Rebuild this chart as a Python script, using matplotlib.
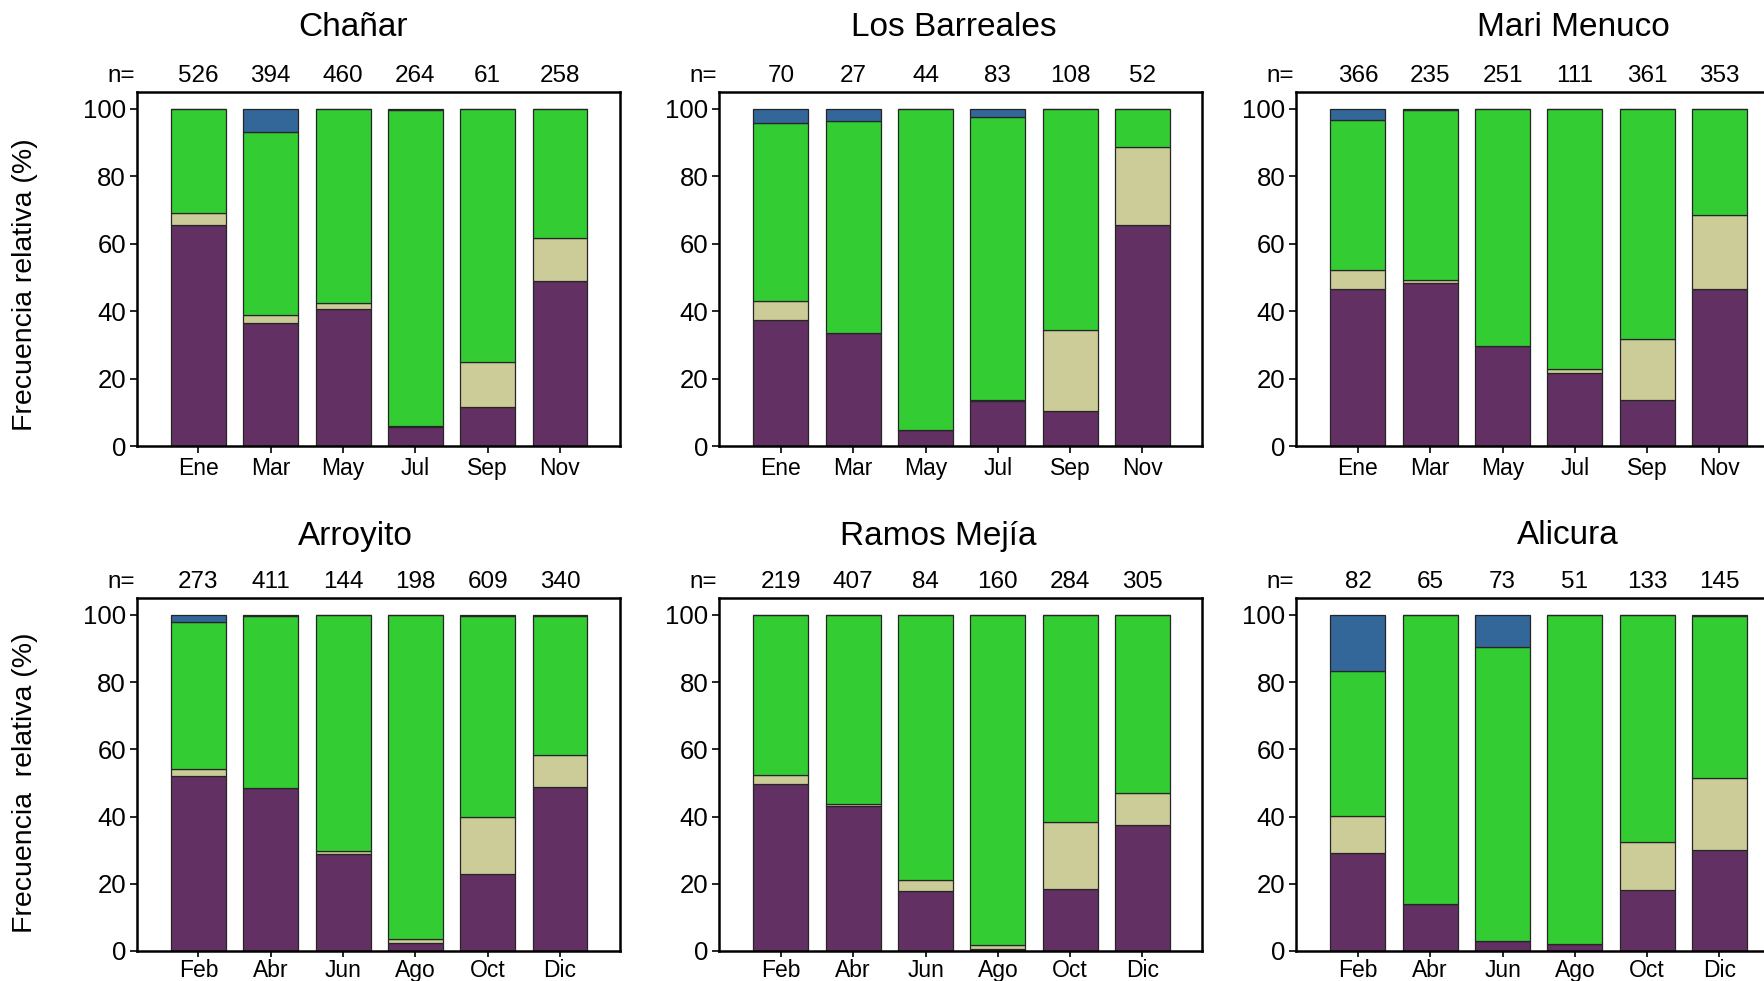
import matplotlib
matplotlib.use("Agg")
import matplotlib.pyplot as plt
import matplotlib.transforms as mtransforms
import numpy as np

plt.rcParams['font.family'] = ['Liberation Sans', 'DejaVu Sans']

# Months sampled in each row of panels
months_top = ["Ene", "Mar", "May", "Jul", "Sep", "Nov"]
months_bottom = ["Feb", "Abr", "Jun", "Ago", "Oct", "Dic"]

# Relative frequency (%) per category, stacked bottom to top:
# purple, tan, green, blue
chanar_purple = [65.6, 36.6, 40.6, 5.7, 11.7, 48.9]
chanar_tan = [3.6, 2.2, 1.7, 0.1, 13.3, 12.7]
chanar_green = [30.8, 54.3, 57.7, 94.0, 75.0, 38.4]
chanar_blue = [0.0, 6.9, 0.0, 0.2, 0.0, 0.0]
chanar_n = [526, 394, 460, 264, 61, 258]

barreales_purple = [37.4, 33.4, 4.6, 13.4, 10.4, 65.6]
barreales_tan = [5.6, 0.0, 0.0, 0.1, 23.9, 23.1]
barreales_green = [52.8, 62.9, 95.4, 84.1, 65.7, 11.3]
barreales_blue = [4.2, 3.7, 0.0, 2.4, 0.0, 0.0]
barreales_n = [70, 27, 44, 83, 108, 52]

menuco_purple = [46.6, 48.4, 29.6, 21.7, 13.6, 46.6]
menuco_tan = [5.6, 0.7, 0.2, 1.0, 18.1, 21.9]
menuco_green = [44.6, 50.6, 70.2, 77.3, 68.3, 31.4]
menuco_blue = [3.2, 0.3, 0.0, 0.0, 0.0, 0.1]
menuco_n = [366, 235, 251, 111, 361, 353]

arroyito_purple = [52.2, 48.5, 29.0, 2.5, 22.8, 48.8]
arroyito_tan = [1.8, 0.1, 0.7, 1.0, 17.0, 9.5]
arroyito_green = [43.9, 51.0, 70.3, 96.5, 59.8, 41.4]
arroyito_blue = [2.1, 0.4, 0.0, 0.0, 0.4, 0.3]
arroyito_n = [273, 411, 144, 198, 609, 340]

ramos_purple = [49.6, 43.1, 17.8, 0.7, 18.3, 37.6]
ramos_tan = [2.9, 0.7, 3.3, 1.1, 20.1, 9.3]
ramos_green = [47.5, 56.2, 78.9, 98.2, 61.4, 52.9]
ramos_blue = [0.0, 0.0, 0.0, 0.0, 0.2, 0.2]
ramos_n = [219, 407, 84, 160, 284, 305]

alicura_purple = [29.2, 14.0, 3.0, 2.2, 18.0, 29.9]
alicura_tan = [10.9, 0.0, 0.0, 0.0, 14.3, 21.5]
alicura_green = [43.1, 86.0, 87.3, 97.8, 67.7, 48.1]
alicura_blue = [16.8, 0.0, 9.7, 0.0, 0.0, 0.5]
alicura_n = [82, 65, 73, 51, 133, 145]

colors = ["#633063", "#CCCC99", "#33CC33", "#336699"]

panels = [
    ("Chañar", months_top, chanar_n,
     [chanar_purple, chanar_tan, chanar_green, chanar_blue]),
    ("Los Barreales", months_top, barreales_n,
     [barreales_purple, barreales_tan, barreales_green, barreales_blue]),
    ("Mari Menuco", months_top, menuco_n,
     [menuco_purple, menuco_tan, menuco_green, menuco_blue]),
    ("Arroyito", months_bottom, arroyito_n,
     [arroyito_purple, arroyito_tan, arroyito_green, arroyito_blue]),
    ("Ramos Mejía", months_bottom, ramos_n,
     [ramos_purple, ramos_tan, ramos_green, ramos_blue]),
    ("Alicura", months_bottom, alicura_n,
     [alicura_purple, alicura_tan, alicura_green, alicura_blue]),
]

W, H = 1765, 981
fig = plt.figure(figsize=(W / 100, H / 100), dpi=100)
fig.patch.set_facecolor("white")

lefts = [137, 719.5, 1296.5]
width_px = 483
rows = [(446, 354), (951, 353)]  # (bottom y in px from top, height px)
title_x = [[353, 954, 1573], [355, 938, 1568]]
title_y = [28, 536]
ylabels = ["Frecuencia relativa (%)", "Frecuencia  relativa (%)"]
ylabel_y = [285, 783]

for i, (name, months, nvals, segs) in enumerate(panels):
    r, c = divmod(i, 3)
    ybot, hpx = rows[r]
    ax = fig.add_axes([lefts[c] / W, 1 - ybot / H, width_px / W, hpx / H])
    x = np.arange(len(months))
    bottom = np.zeros(len(months))
    for vals, col in zip(segs, colors):
        vals = np.asarray(vals)
        ax.bar(x, vals, width=0.76, bottom=bottom, color=col,
               edgecolor="#262626", linewidth=0.9, zorder=2)
        bottom += vals
    ax.set_xlim(-0.85, 5.83)
    ax.set_ylim(0, 105)
    ax.set_yticks([0, 20, 40, 60, 80, 100])
    ax.set_xticks(x)
    ax.set_xticklabels(months)
    ax.tick_params(axis="both", direction="out", length=5, width=1.2,
                   pad=3, color="black")
    ax.tick_params(axis="y", labelsize=18.5)
    ax.tick_params(axis="x", labelsize=16.5,
                   length=4 if r == 1 else 5, pad=1.5 if r == 1 else 3)
    for sp in ax.spines.values():
        sp.set_linewidth(1.8)
        sp.set_color("black")
    trans = mtransforms.blended_transform_factory(ax.transData, ax.transAxes)
    lab_off = 1 + 16.5 / hpx
    ax.text(-1.07, lab_off, "n=", transform=trans, ha="center", va="center",
            fontsize=17.5, clip_on=False)
    for xi, nv in zip(x, nvals):
        ax.text(xi, lab_off, str(nv), transform=trans, ha="center",
                va="center", fontsize=17.5, clip_on=False)
    fig.text(title_x[r][c] / W, 1 - title_y[r] / H, name, ha="center",
             va="center", fontsize=24)

for r in range(2):
    fig.text(25 / W, 1 - ylabel_y[r] / H, ylabels[r], rotation=90,
             ha="center", va="center", fontsize=20.5)

fig.savefig("out.png", dpi=100, facecolor="white")
